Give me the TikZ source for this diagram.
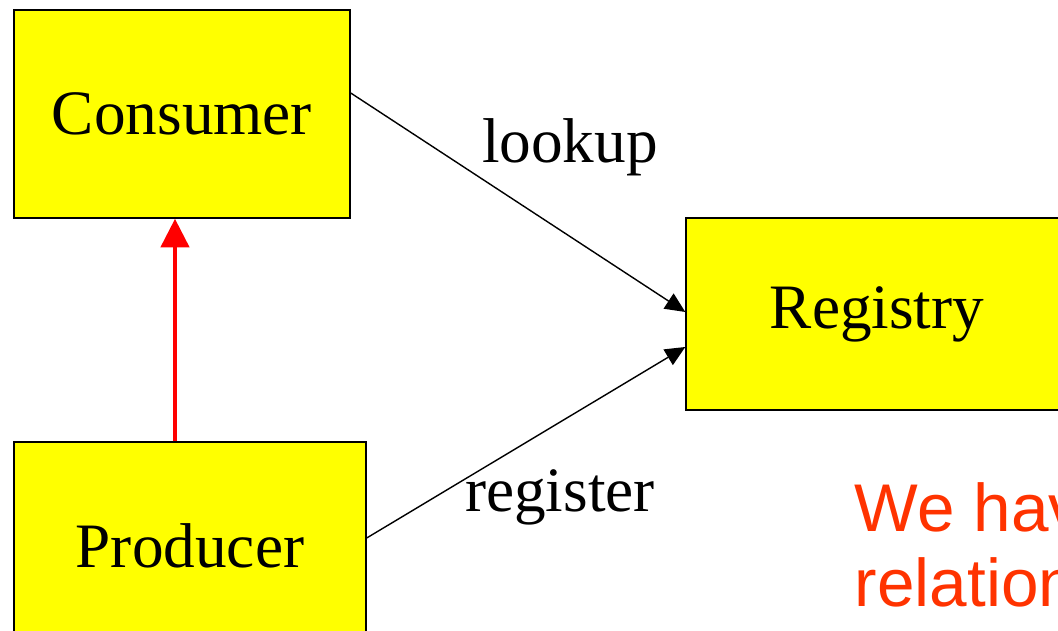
\documentclass[tikz,border=0pt]{standalone}
\usepackage{fontspec}
\setmainfont{Liberation Serif}
\newfontfamily\notefont{Liberation Sans}
\usetikzlibrary{arrows.meta}
\definecolor{notered}{RGB}{255,51,0}
\definecolor{boxyellow}{RGB}{255,255,0}

\tikzset{
    box/.style={draw, fill=boxyellow, line width=1pt, font=\fontsize{45}{54}\selectfont},
    lbl/.style={font=\fontsize{45}{54}\selectfont},
}

\begin{document}
\begin{tikzpicture}
    \useasboundingbox (0,0) rectangle (26.45,15.775);
    \clip (0,0) rectangle (26.45,15.775);
    \node(cons)[box, minimum width=8.4cm, minimum height=5.2cm] at (4.55,12.925) {Consumer};
    \node(reg)[box, minimum width=9.55cm, minimum height=4.8cm] at (21.925,7.925) {Registry};
    \node(prod)[box, minimum width=8.8cm, minimum height=5.2cm] at (4.75,2.125) {Producer};
    \node(lookup)[lbl] at (14.25,12.1) {lookup};
    \node(register)[lbl] at (14.0,3.35) {register};
    % note on the lower right
    \node(note1)[anchor=base west, text=notered, font=\notefont\fontsize{48}{54}\selectfont] at (21.25,2.475) {We have};
    \node(note2)[anchor=base west, text=notered, font=\notefont\fontsize{48}{54}\selectfont] at (21.25,0.6) {relation};
    \draw[line width=1pt, -{Triangle[length=0.5cm, width=0.45cm]}]
        ([yshift=0.525cm]cons.east) -- ([yshift=0.05cm]reg.west);
    \draw[line width=1pt, -{Triangle[length=0.5cm, width=0.45cm]}]
        ([yshift=0.2cm]prod.east) -- ([yshift=-0.825cm]reg.west);
    \draw[red, line width=3.5pt, -{Triangle[length=0.72cm, width=0.7cm]}]
        ([xshift=-0.375cm]prod.north) -- ([xshift=-0.375cm]prod.north |- cons.south);
\end{tikzpicture}
\end{document}
